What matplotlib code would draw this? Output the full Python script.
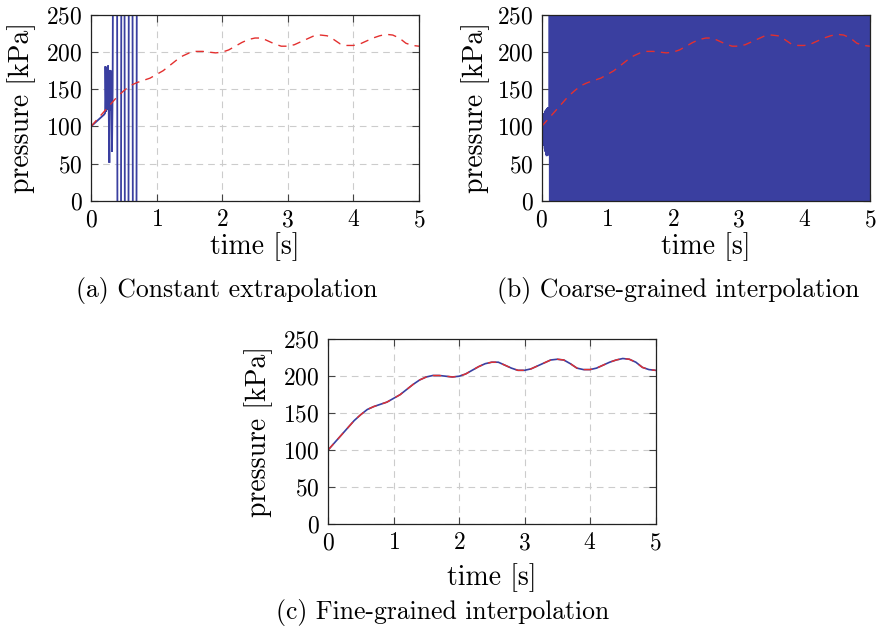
import numpy as np
import matplotlib
matplotlib.use("Agg")
import matplotlib.pyplot as plt

plt.rcParams['font.family'] = ['cmr10', 'DejaVu Serif']
plt.rcParams['mathtext.fontset'] = 'cm'
plt.rcParams['axes.formatter.use_mathtext'] = True

# ---------------- data ----------------
# reference (monolithic) solution, red dashed, read every 0.1 s
t_ref = [0.0, 0.1, 0.2, 0.3, 0.4, 0.5, 0.6, 0.7, 0.8, 0.9,
         1.0, 1.1, 1.2, 1.3, 1.4, 1.5, 1.6, 1.7, 1.8, 1.9,
         2.0, 2.1, 2.2, 2.3, 2.4, 2.5, 2.6, 2.7, 2.8, 2.9,
         3.0, 3.1, 3.2, 3.3, 3.4, 3.5, 3.6, 3.7, 3.8, 3.9,
         4.0, 4.1, 4.2, 4.3, 4.4, 4.5, 4.6, 4.7, 4.8, 4.9, 5.0]
p_ref = [100, 110, 120, 130, 140, 148, 155, 159, 162, 165,
         170, 175, 182, 189, 195, 199, 201, 201, 200, 199,
         200, 203, 208, 213, 217, 219, 219, 215, 211, 208,
         208, 210, 214, 218, 222, 223, 222, 217, 211, 209,
         209, 211, 215, 219, 222, 224, 223, 219, 212, 209, 208]

# (a) constant extrapolation: blue, diverges off-scale after ~0.7 s
t_const = [0.00, 0.05, 0.10, 0.15, 0.20, 0.215, 0.220, 0.230, 0.240, 0.250,
           0.260, 0.270, 0.280, 0.290, 0.300, 0.310, 0.320, 0.330, 0.338,
           0.396, 0.404, 0.456, 0.464, 0.509, 0.517, 0.570, 0.578,
           0.631, 0.639, 0.692, 0.700]
p_const = [100, 104, 108, 112, 116, 118, 181, 120, 179, 122,
           182, 125, 51, 176, 122, 175, 66, 150, 400,
           400, -100, -100, 400, 400, -100, -100, 400,
           400, -100, -100, 400]

# (b) coarse-grained interpolation: blue, early noisy part then unstable
t_coarse_early = [0.000, 0.005, 0.010, 0.015, 0.020, 0.025, 0.030, 0.035,
                  0.040, 0.045, 0.050, 0.055, 0.060, 0.065, 0.070, 0.075,
                  0.080, 0.085, 0.090, 0.095, 0.100, 0.105, 0.110, 0.115]
p_coarse_early = [100, 92, 108, 85, 112, 80, 115, 74, 118, 70, 120, 66,
                  122, 62, 123, 60, 124, 64, 125, 61, 126, 70, 125, 72]
coarse_unstable_start = 0.12     # s, onset of the step-to-step oscillation
coarse_unstable_end = 5.0        # s
coarse_unstable_steps = 1200     # oscillation samples
coarse_unstable_low = -1000.0    # kPa, far below the axis
coarse_unstable_high = 1000.0    # kPa, far above the axis

# (c) fine-grained interpolation: blue, coincides with the reference
t_fine = list(t_ref)
p_fine = [100, 110, 120, 130, 140, 148, 155, 159, 162, 165,
          170, 175, 182, 189, 195, 199, 201, 201, 200, 199,
          200, 203, 208, 213, 217, 219, 219, 215, 211, 208,
          208, 210, 214, 218, 222, 223, 222, 217, 211, 209,
          209, 211, 215, 219, 222, 224, 223, 219, 212, 209, 208]

x_ticks = [0, 1, 2, 3, 4, 5]
y_ticks = [0, 50, 100, 150, 200, 250]
captions = ["(a) Constant extrapolation", "(b) Coarse-grained interpolation",
            "(c) Fine-grained interpolation"]

# unstable part of (b): values alternate between far below and far above
t_unst = np.linspace(coarse_unstable_start, coarse_unstable_end, coarse_unstable_steps)
p_unst = np.where(np.arange(coarse_unstable_steps) % 2 == 0,
                  coarse_unstable_high, coarse_unstable_low)
t_coarse = np.concatenate([t_coarse_early, t_unst])
p_coarse = np.concatenate([p_coarse_early, p_unst])

# ---------------- figure ----------------
W, H = 877, 628
fig = plt.figure(figsize=(W / 100, H / 100), dpi=100)

def px_axes(l, t, r, b):
    return fig.add_axes([l / W, 1 - b / H, (r - l) / W, (b - t) / H])

BLUE = '#3a3fa0'
RED = '#e3302f'
TICK_FS = 17
LABEL_FS = 20
CAP_FS = 18.5

def style(ax, t_blue, p_blue, blue_lw=1.2):
    ax.plot(t_blue, p_blue, color=BLUE, lw=blue_lw, solid_joinstyle='miter', zorder=2)
    ax.plot(t_ref, p_ref, color=RED, lw=1.0, dashes=(6, 4.5), zorder=3)
    ax.set_xlim(0, 5)
    ax.set_ylim(0, 250)
    ax.set_xticks(x_ticks)
    ax.set_yticks(y_ticks)
    ax.grid(True, color='#cccccc', lw=0.8, linestyle=(0, (6, 4.5)), zorder=0)
    ax.tick_params(direction='in', length=5, width=0.8, color='#444444',
                   top=True, right=True, labelsize=TICK_FS, pad=6)
    for s in ax.spines.values():
        s.set_linewidth(0.9)
        s.set_color('#222222')
        s.set_zorder(4)
    ax.set_xlabel('time [s]', fontsize=LABEL_FS)
    ax.set_ylabel('pressure [kPa]', fontsize=LABEL_FS)

ax_a = px_axes(91, 15, 419, 200.7)
style(ax_a, t_const, p_const, blue_lw=1.3)
ax_a.xaxis.set_label_coords(0.5, -(232 - 200.7) / 185.7)
ax_a.yaxis.set_label_coords(-(91 - 36) / 328, 0.5)

ax_b = px_axes(541.7, 15, 870, 200.7)
style(ax_b, t_coarse, p_coarse)
ax_b.xaxis.set_label_coords(0.5, -(232 - 200.7) / 185.7)
ax_b.yaxis.set_label_coords(-(541.7 - 490) / 328, 0.5)

ax_c = px_axes(328, 339.3, 655.5, 524)
style(ax_c, t_fine, p_fine)
ax_c.xaxis.set_label_coords(0.5, -(563 - 524) / 184.7)
ax_c.yaxis.set_label_coords(-(328 - 273) / 327.5, 0.5)

fig.text(227 / W, 1 - 290 / H, captions[0], fontsize=CAP_FS, ha='center', va='center')
fig.text(678 / W, 1 - 290 / H, captions[1], fontsize=CAP_FS, ha='center', va='center')
fig.text(443 / W, 1 - 612 / H, captions[2], fontsize=CAP_FS, ha='center', va='center')

fig.savefig('out.png', dpi=100)
